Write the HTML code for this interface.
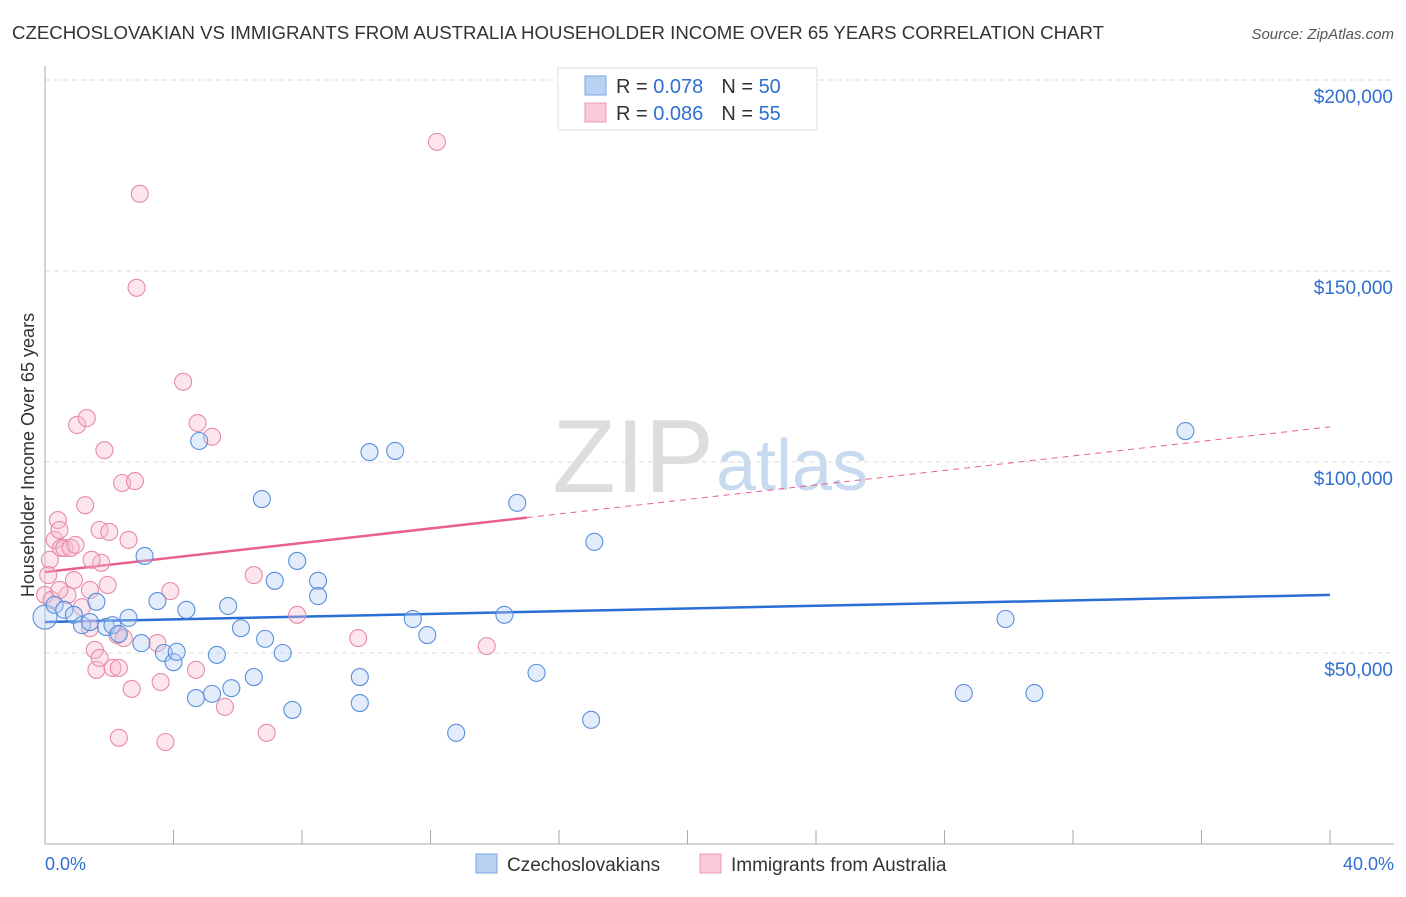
<!DOCTYPE html>
<html><head><meta charset="utf-8">
<style>
body{margin:0;background:#fff;font-family:"Liberation Sans",sans-serif;}
svg text{font-family:"Liberation Sans",sans-serif;}
</style></head>
<body>
<svg id="chart" width="1406" height="892" xmlns="http://www.w3.org/2000/svg">
<text x="12" y="39" font-size="18" fill="#333" textLength="1092" lengthAdjust="spacingAndGlyphs">CZECHOSLOVAKIAN VS IMMIGRANTS FROM AUSTRALIA HOUSEHOLDER INCOME OVER 65 YEARS CORRELATION CHART</text>
<text x="1394" y="39" font-size="15" fill="#555" font-style="italic" text-anchor="end">Source: ZipAtlas.com</text>
<text x="714" y="492" font-size="104" fill="#ddd" text-anchor="end" font-family="Liberation Serif">ZIP</text>
<text x="716" y="490" font-size="72" fill="#c8daf0">atlas</text>
<text transform="translate(34,455) rotate(-90)" font-size="18" fill="#333" text-anchor="middle">Householder Income Over 65 years</text>
<g id="grid"></g><g id="axes"></g><g id="trends"></g><g id="points"></g>
<g>
<rect x="558" y="68" width="259" height="62" fill="#fff" stroke="#ddd"/>
<rect x="585" y="76" width="21" height="19" fill="#b8d2f4" stroke="#7aa6e0"/>
<rect x="585" y="103" width="21" height="19" fill="#f9c9d7" stroke="#eb9ab3"/>
<text x="616" y="93" font-size="20" fill="#333">R = <tspan fill="#2f6fd0">0.078</tspan><tspan dx="18">N = </tspan><tspan fill="#2f6fd0">50</tspan></text>
<text x="616" y="120" font-size="20" fill="#333">R = <tspan fill="#2f6fd0">0.086</tspan><tspan dx="18">N = </tspan><tspan fill="#2f6fd0">55</tspan></text>
</g>
<g>
<rect x="476" y="854" width="21" height="19" fill="#b8d2f4" stroke="#7aa6e0"/>
<text x="507" y="871" font-size="19" fill="#333">Czechoslovakians</text>
<rect x="700" y="854" width="21" height="19" fill="#f9c9d7" stroke="#eb9ab3"/>
<text x="731" y="871" font-size="19" fill="#333">Immigrants from Australia</text>
</g>
<text x="45" y="870" font-size="18" fill="#2f6fd0">0.0%</text>
<text x="1394" y="870" font-size="18" fill="#2f6fd0" text-anchor="end">40.0%</text>
</svg>
<script>
const yTicks=[50,100,150,200];
const yTickLabels=["$50,000","$100,000","$150,000","$200,000"];
const blueX=[0.0,0.3,0.6,0.9,1.15,1.4,1.6,1.9,2.1,2.3,2.6,3.0,3.1,3.5,3.7,4.0,4.1,4.4,4.7,4.8,5.2,5.35,5.7,5.8,6.1,6.5,6.75,6.85,7.15,7.4,7.7,7.85,8.5,8.5,9.8,9.8,10.1,10.9,11.45,11.9,12.8,14.3,14.7,15.3,17.0,17.1,28.6,29.9,30.8,35.5];
const blueY=[59.4,62.6,61.3,60.0,57.3,58.1,63.4,56.8,57.3,55.0,59.2,52.6,75.4,63.6,50.0,47.6,50.3,61.3,38.2,105.5,39.3,49.5,62.3,40.8,56.5,43.7,90.3,53.7,68.9,50.0,35.1,74.1,68.9,64.9,43.7,36.9,102.6,102.9,58.9,54.7,29.1,60.0,89.3,44.8,32.5,79.1,39.5,58.9,39.5,108.1];
const pinkX=[0.0,0.15,0.3,0.4,0.45,0.5,0.6,0.7,0.8,0.9,1.0,1.15,1.25,1.3,1.4,1.4,1.55,1.6,1.7,1.7,1.75,1.85,1.95,2.0,2.1,2.25,2.3,2.3,2.4,2.45,2.6,2.7,2.8,2.85,2.95,3.5,3.6,3.75,3.9,4.3,4.7,4.75,5.2,5.6,6.5,6.9,7.85,9.75,12.2,13.75,0.1,0.2,0.45,0.95,1.45];
const pinkY=[65.2,74.4,79.6,84.8,82.2,77.5,77.5,65.2,77.5,69.1,109.7,62.0,88.7,111.5,66.5,56.5,50.8,45.6,82.2,48.7,73.6,103.1,67.8,81.7,46.1,54.7,46.1,27.8,94.5,53.9,79.6,40.6,95.0,145.6,170.2,52.6,42.4,26.7,66.2,121.0,45.6,110.2,106.6,35.9,70.4,29.1,60.0,53.9,183.8,51.8,70.4,63.9,66.5,78.3,74.4];
const blueTrend=[58.1,65.2];
const pinkTrend=[71.2,109.2];
const pinkSolidEnd=15.0;

const X0=45,X1=1330,Yb=844,Y200=80;
const sx=v=>X0+(X1-X0)*v/40;
const sy=v=>Yb-(Yb-Y200)*v/200;
const NS="http://www.w3.org/2000/svg";
function mk(tag,attrs,parent){const e=document.createElementNS(NS,tag);for(const k in attrs)e.setAttribute(k,attrs[k]);parent.appendChild(e);return e;}
const grid=document.getElementById('grid'),axes=document.getElementById('axes'),trends=document.getElementById('trends'),pts=document.getElementById('points');
yTicks.forEach((t,i)=>{
  const l=mk('line',{x1:X0,x2:1394,y1:sy(t),y2:sy(t),stroke:'#ddd','stroke-dasharray':'5,4'},grid);
  
  
  const tx=mk('text',{x:1393,y:sy(t)+23,'font-size':19,fill:'#2f6fd0','text-anchor':'end'},axes);
  tx.textContent=yTickLabels[i];
  
  
});
const ya=mk('line',{x1:X0,x2:X0,y1:66,y2:Yb,stroke:'#aaa'},axes);


const xa=mk('line',{x1:X0,x2:1394,y1:Yb,y2:Yb,stroke:'#aaa'},axes);


for(let i=1;i<=10;i++){
  const t=mk('line',{x1:sx(i*4),x2:sx(i*4),y1:Yb-14,y2:Yb,stroke:'#aaa'},axes);
  
  
}
function drawPts(xs,ys,fill,stroke,name){
  xs.forEach((x,i)=>{
    const c=mk('circle',{cx:sx(x),cy:sy(ys[i]),r:(i===0&&name==='blue-point')?12:8.5,fill:fill,'fill-opacity':0.38,stroke:stroke,'stroke-width':1.1},pts);
    
    
  });
}
drawPts(pinkX,pinkY,'#f7bccd','#e88aa8','pink-point');
drawPts(blueX,blueY,'#b3cef2','#5a8fdc','blue-point');
const bt=mk('line',{x1:sx(0),y1:sy(blueTrend[0]),x2:sx(40),y2:sy(blueTrend[1]),stroke:'#2a6fd6','stroke-width':2.5},trends);


const pAt=x=>pinkTrend[0]+(pinkTrend[1]-pinkTrend[0])*x/40;
const ps=mk('line',{x1:sx(0),y1:sy(pAt(0)),x2:sx(pinkSolidEnd),y2:sy(pAt(pinkSolidEnd)),stroke:'#e8608f','stroke-width':2.5},trends);


const pd=mk('line',{x1:sx(pinkSolidEnd),y1:sy(pAt(pinkSolidEnd)),x2:sx(40),y2:sy(pAt(40)),stroke:'#e8608f','stroke-width':1,'stroke-dasharray':'6,5'},trends);


</script>
</body></html>
